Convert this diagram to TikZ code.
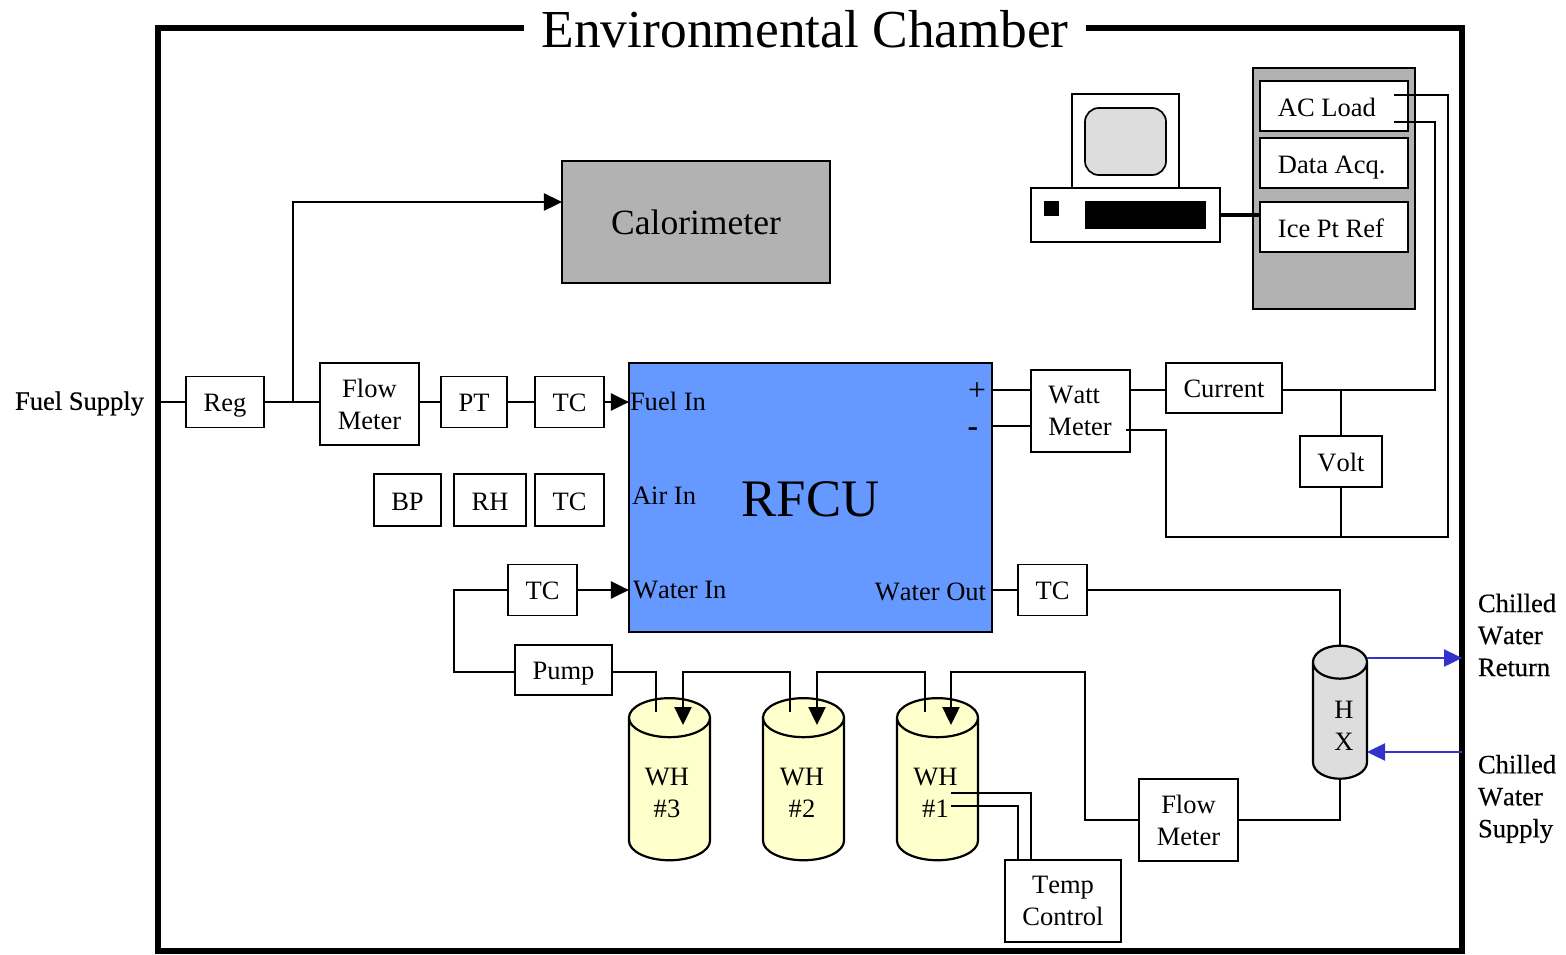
\documentclass[tikz,border=0pt]{standalone}
\usepackage{fontspec}
\setmainfont[Kerning=Off]{Liberation Serif}
\newfontfamily\outerfont[FakeBold=0.4,Kerning=Off]{Liberation Serif}
\usetikzlibrary{arrows.meta,shapes.geometric}
\definecolor{stackblue}{HTML}{6699FF}
\definecolor{panelgray}{HTML}{B2B2B2}
\definecolor{screengray}{HTML}{DDDDDD}
\definecolor{tankyellow}{HTML}{FFFFCC}
\definecolor{coolantblue}{HTML}{3333CC}
\begin{document}
\begin{tikzpicture}[
        x=0.01cm, y=-0.01cm,
        every node/.style={font=\fontsize{7.54pt}{9.1pt}\selectfont, inner sep=0pt, outer sep=0pt},
        box/.style={rectangle, draw=black, line width=0.017cm, fill=white, align=center},
        oneline/.style={box, text height=0.19cm, text depth=0cm},
        gauge/.style={oneline, minimum width=0.69cm, minimum height=0.51cm},
        meter/.style={box, minimum width=0.99cm, minimum height=0.82cm},
        card/.style={oneline, text height=0.205cm, text width=1.12cm, inner xsep=0.18cm, minimum width=1.48cm, minimum height=0.5cm, align=flush left},
        panel/.style={box, fill=panelgray},
        tank/.style={cylinder, shape border rotate=90, draw=black, line width=0.022cm, fill=tankyellow, minimum width=0.81cm, minimum height=1.62cm, aspect=1.3, text width=0.3cm, text height=0.25cm, text depth=0.25cm},
        exchanger/.style={tank, fill=screengray, minimum width=0.54cm, minimum height=1.33cm, aspect=1.1},
        outer/.style={font=\fontsize{7.54pt}{9.1pt}\outerfont, align=left},
        wire/.style={line width=0.024cm},
        arrow/.style={wire, ->, >={Triangle[length=0.18cm, width=0.17cm]}},
        coolant/.style={arrow, draw=coolantblue, >={Triangle[length=0.18cm, width=0.17cm, fill=coolantblue]}}
    ]
        \useasboundingbox (0,0) rectangle (1566,954);
        \node[rectangle, draw=black, line width=0.06cm, minimum width=13.04cm, minimum height=9.23cm] (chamber) at (810,489.5) {};
        \node[fill=white, minimum width=5.61cm, font=\fontsize{15.2pt}{16pt}\selectfont] (title) at (805,29) {Environmental Chamber};

        \node[outer] (fuel) at (79.5,403.5) {Fuel Supply};
        \node[outer, anchor=west] (chilledreturn) at (1478,635) {Chilled\\Water\\Return};
        \node[outer, anchor=west] (chilledsupply) at (1478,799) {Chilled\\Water\\Supply};

        \node[panel, minimum width=2.68cm, minimum height=1.22cm, text height=0.26cm, font=\fontsize{10.1pt}{12pt}\selectfont] (calorimeter) at (696,222) {Calorimeter};
        \node[panel, minimum width=1.62cm, minimum height=2.41cm] (rack) at (1334,188.5) {};
        \node[card] (acload) at (1334,106) {AC Load};
        \node[card] (dataacq) at (1334,163) {Data Acq.};
        \node[card] (icept) at (1334,227) {Ice Pt Ref};

        \node[box, minimum width=1.07cm, minimum height=0.94cm] (monitor) at (1125.5,141) {};
        \node[box, rounded corners=0.14cm, fill=screengray, minimum width=0.81cm, minimum height=0.67cm] (screen) at (1125.5,141.5) {};
        \node[box, minimum width=1.89cm, minimum height=0.54cm] (base) at (1125.5,215) {};
        \node[rectangle, fill=black, minimum width=0.15cm, minimum height=0.15cm] (led) at (1051.5,208.5) {};
        \node[rectangle, fill=black, minimum width=1.21cm, minimum height=0.28cm] (drive) at (1145.5,215) {};

        \node[gauge, minimum width=0.78cm] (reg) at (225,402) {Reg};
        \node[meter] (flowfuel) at (369.5,404) {Flow\\Meter};
        \node[gauge, minimum width=0.66cm] (pt) at (474,402) {PT};
        \node[gauge] (tcfuel) at (569.5,402) {TC};
        \node[gauge, minimum width=0.67cm, minimum height=0.52cm, text height=0.205cm] (bp) at (407.5,500) {BP};
        \node[gauge, minimum width=0.72cm, minimum height=0.52cm, text height=0.205cm] (rh) at (490,500) {RH};
        \node[gauge, minimum height=0.52cm, text height=0.205cm] (tcair) at (569.5,500) {TC};
        \node[gauge] (tcwater) at (542.5,590) {TC};
        \node[gauge, minimum width=0.97cm, minimum height=0.5cm] (pump) at (563.5,670) {Pump};

        \node[box, fill=stackblue, minimum width=3.63cm, minimum height=2.69cm, text height=0.38cm, text depth=0cm, font=\fontsize{15pt}{16pt}\selectfont] (rfcu) at (810.5,497.5) {RFCU};
        \node[anchor=west] (fuelin) at (630,401) {Fuel In};
        \node[anchor=west] (airin) at (632,496) {Air In};
        \node[anchor=west] (waterin) at (633,590) {Water In};
        \node[anchor=east] (waterout) at (986,592) {Water Out};
        \node[text height=0.2cm, text depth=0cm, font=\fontsize{9pt}{10pt}\selectfont] (plus) at (977,390) {+};
        \node[text height=0.2cm, text depth=0cm, font=\bfseries\fontsize{9pt}{10pt}\selectfont] (minus) at (973,426) {-};

        \node[meter, text width=0.64cm, align=flush left] (watt) at (1080.5,411) {Watt\\Meter};
        \node[gauge, minimum width=1.16cm, minimum height=0.5cm] (current) at (1224,388) {Current};
        \node[gauge, minimum width=0.82cm] (volt) at (1341,461.5) {Volt};
        \node[gauge] (tcout) at (1052.5,590) {TC};

        \node[tank] (wh3) at (669.5,789.5) {};
        \node[tank] (wh2) at (803.5,789.5) {};
        \node[tank] (wh1) at (937.5,789.5) {};
        \node[exchanger] (hx) at (1340,721) {};
        \node[align=center] (wh3text) at (667,793) {WH\\\#3};
        \node[align=center] (wh2text) at (802,793) {WH\\\#2};
        \node[align=center] (wh1text) at (935.5,793) {WH\\\#1};
        \node[align=center] (hxtext) at (1344,726) {H\\X};
        \node[meter] (flowwater) at (1188.5,820) {Flow\\Meter};
        \node[box, minimum width=1.16cm, minimum height=0.82cm] (tempcontrol) at (1063,901) {Temp\\Control};

        \coordinate (tee) at (293,402);
        \coordinate (calin) at (562,202);
        \coordinate (aca) at (1394,95);
        \coordinate (acb) at (1394,122);
        \coordinate (wattout) at (1126,430);
        \coordinate (sense) at (1340,537);
        \coordinate (drain) at (0,672);
        \coordinate (wh3out) at (656,712);
        \coordinate (wh3in) at (683,725);
        \coordinate (wh2out) at (790,712);
        \coordinate (wh2in) at (817,725);
        \coordinate (wh1out) at (925,712);
        \coordinate (wh1in) at (951,725);
        \coordinate (wh1hi) at (951,793);
        \coordinate (wh1lo) at (951,806);
        \coordinate (hxreturn) at (1367,658);
        \coordinate (hxsupply) at (1367,752);
        \coordinate (wallreturn) at (1462,658);
        \coordinate (wallsupply) at (1462,752);

        \draw[wire] (chamber.west |- reg) -- (reg);
        \draw[wire] (reg) -- (reg -| flowfuel.west);
        \draw[arrow] (tee) |- (calin);
        \draw[wire] (flowfuel.east |- pt) -- (pt);
        \draw[wire] (pt) -- (tcfuel);
        \draw[arrow] (tcfuel) -- (tcfuel -| rfcu.west);

        \draw[arrow] (tcwater) -- (tcwater -| rfcu.west);
        \draw[wire] (tcwater.west) -| (454,672) -- (pump.west |- drain);
        \draw[wire] (pump.east |- drain) -| (wh3out);
        \draw[arrow] (wh2out) |- (683,672) -- (wh3in);
        \draw[arrow] (wh1out) |- (817,672) -- (wh2in);
        \draw[arrow] (flowwater.west) -| (1085,672) -- (951,672) -- (wh1in);
        \draw[wire] (flowwater.east) -| (hx.south);
        \draw[wire] (tcout.east) -| (hx.north);
        \draw[wire] (rfcu.east |- tcout) -- (tcout);
        \draw[wire] (wh1hi) -| (tempcontrol.north -| 1031,0);
        \draw[wire] (wh1lo) -| (tempcontrol.north -| 1018,0);
        \draw[coolant] (hxreturn) -- (wallreturn);
        \draw[coolant] (wallsupply) -- (hxsupply);

        \draw[wire] (rfcu.east |- plus) -- (watt.west |- plus);
        \draw[wire] (rfcu.east |- minus) -- (watt.west |- minus);
        \draw[wire] (watt.east |- plus) -- (current.west |- plus);
        \draw[wire] (current.east |- plus) -| (1435,122) -- (acb);
        \draw[wire] (wattout) -| (1166,537) -| (1448,95) -- (aca);
        \draw[wire] (volt.north |- plus) -- (volt);
        \draw[wire] (volt) -- (volt |- sense);
        \draw[line width=0.035cm] (base.east) -- (icept.west |- base);
    \end{tikzpicture}
\end{document}
